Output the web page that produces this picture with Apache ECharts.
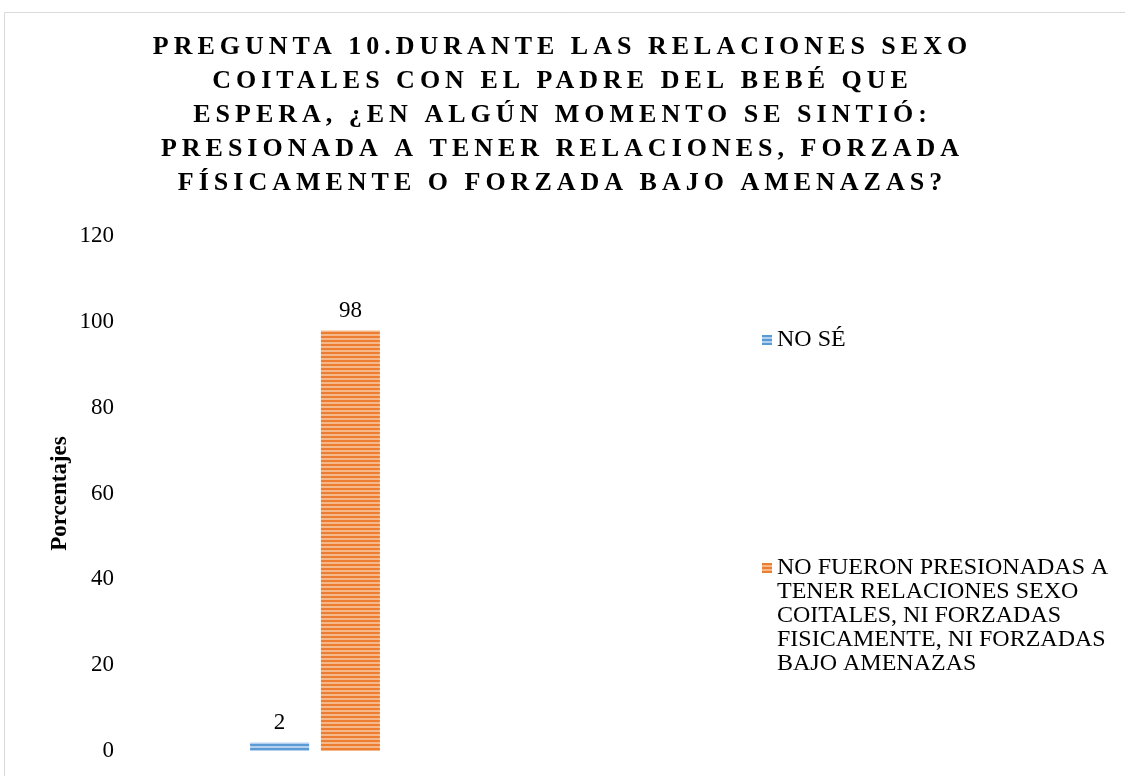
<!DOCTYPE html>
<html>
<head>
<meta charset="utf-8">
<script src="https://cdn.jsdelivr.net/npm/echarts@6/dist/echarts.min.js"></script>
<style>
  html, body { margin: 0; padding: 0; background: #fff; }
  #chart { width: 1125px; height: 776px; }
</style>
</head>
<body>
<div id="chart"></div>
<script>
// datos
const categorias = [''];
const nombresSeries = [
  'NO SÉ',
  'NO FUERON PRESIONADAS A TENER RELACIONES SEXO COITALES, NI FORZADAS FISICAMENTE, NI FORZADAS BAJO AMENAZAS'
];
const valoresNoSe = [2];
const valoresNoPresionadas = [98];
const lineasLeyenda = [
  'NO FUERON PRESIONADAS A',
  'TENER RELACIONES SEXO',
  'COITALES, NI FORZADAS',
  'FISICAMENTE, NI FORZADAS',
  'BAJO AMENAZAS'
];
const titulo = [
  'PREGUNTA 10.DURANTE LAS RELACIONES SEXO',
  'COITALES CON EL PADRE DEL BEBÉ QUE',
  'ESPERA, ¿EN ALGÚN MOMENTO SE SINTIÓ:',
  'PRESIONADA A TENER RELACIONES, FORZADA',
  'FÍSICAMENTE O FORZADA BAJO AMENAZAS?'
];
const ejeY = { min: 0, max: 120, interval: 20 };

const FUENTE = "'Liberation Serif', 'Times New Roman', serif";
const TITULO_PX = 26;

// espaciado de letras del titulo (canvas letterSpacing)
const fillText0 = CanvasRenderingContext2D.prototype.fillText;
CanvasRenderingContext2D.prototype.fillText = function (t, x, y, w) {
  this.letterSpacing = this.font.indexOf('bold ' + TITULO_PX + 'px') >= 0 ? '5px' : '0px';
  return w === undefined ? fillText0.call(this, t, x, y) : fillText0.call(this, t, x, y, w);
};

// rayado horizontal
function rayas(oscuro, claro) {
  const c = document.createElement('canvas');
  c.width = 4;
  c.height = 4;
  const ctx = c.getContext('2d');
  ctx.fillStyle = claro;
  ctx.fillRect(0, 0, 4, 4);
  ctx.fillStyle = oscuro;
  ctx.fillRect(0, 0, 4, 2);
  return { image: c, repeat: 'repeat' };
}

const chart = echarts.init(document.getElementById('chart'));

const etiqueta = {
  show: true,
  position: 'top',
  distance: 8,
  color: '#000',
  fontFamily: FUENTE,
  fontSize: 23
};

// el icono de la leyenda va a la altura de la primera linea:
// se anteponen lineas vacias para que el bloque quede centrado en ella
const vacias = new Array(lineasLeyenda.length - 1).fill('');

const option = {
  animation: false,
  backgroundColor: '#fff',
  graphic: [
    {
      type: 'rect',
      silent: true,
      shape: { x: 4.5, y: 12.5, width: 1300, height: 1000 },
      style: { fill: 'none', stroke: '#d9d9d9', lineWidth: 1 }
    }
  ],
  title: {
    text: titulo.join('\n'),
    left: 'center',
    top: 30,
    padding: 0,
    textStyle: {
      fontFamily: FUENTE,
      fontWeight: 'bold',
      fontSize: TITULO_PX,
      lineHeight: 34,
      color: '#000'
    }
  },
  legend: [
    {
      data: [nombresSeries[0]],
      orient: 'vertical',
      left: 762,
      top: 328,
      padding: 0,
      itemWidth: 10,
      itemHeight: 10,
      icon: 'rect',
      textStyle: { fontFamily: FUENTE, fontSize: 24, color: '#000' }
    },
    {
      data: [nombresSeries[1]],
      orient: 'vertical',
      left: 762,
      top: 460,
      padding: 0,
      itemWidth: 10,
      itemHeight: 10,
      icon: 'rect',
      formatter: function () { return vacias.concat(lineasLeyenda).join('\n'); },
      textStyle: {
        fontFamily: FUENTE,
        fontSize: 24,
        lineHeight: 24,
        color: '#000'
      }
    }
  ],
  grid: {
    left: 124,
    right: 619,
    top: 236,
    bottom: 25
  },
  xAxis: {
    type: 'category',
    data: categorias,
    axisLine: { show: false },
    axisTick: { show: false },
    axisLabel: { show: false }
  },
  yAxis: {
    type: 'value',
    min: ejeY.min,
    max: ejeY.max,
    interval: ejeY.interval,
    name: 'Porcentajes',
    nameLocation: 'middle',
    nameGap: 52,
    nameTextStyle: {
      fontFamily: FUENTE,
      fontWeight: 'bold',
      fontSize: 23,
      color: '#000'
    },
    axisLine: { show: false },
    axisTick: { show: false },
    splitLine: { show: false },
    axisLabel: {
      margin: 10,
      fontFamily: FUENTE,
      fontSize: 23,
      color: '#000'
    }
  },
  series: [
    {
      name: nombresSeries[0],
      type: 'bar',
      data: valoresNoSe,
      barWidth: 59,
      barGap: '20%',
      itemStyle: { color: rayas('#5b9bd5', '#b4d0ee') },
      label: etiqueta
    },
    {
      name: nombresSeries[1],
      type: 'bar',
      data: valoresNoPresionadas,
      barWidth: 59,
      barGap: '20%',
      itemStyle: { color: rayas('#ed7d31', '#f5b88a') },
      label: etiqueta
    }
  ]
};

chart.setOption(option);
</script>
</body>
</html>
